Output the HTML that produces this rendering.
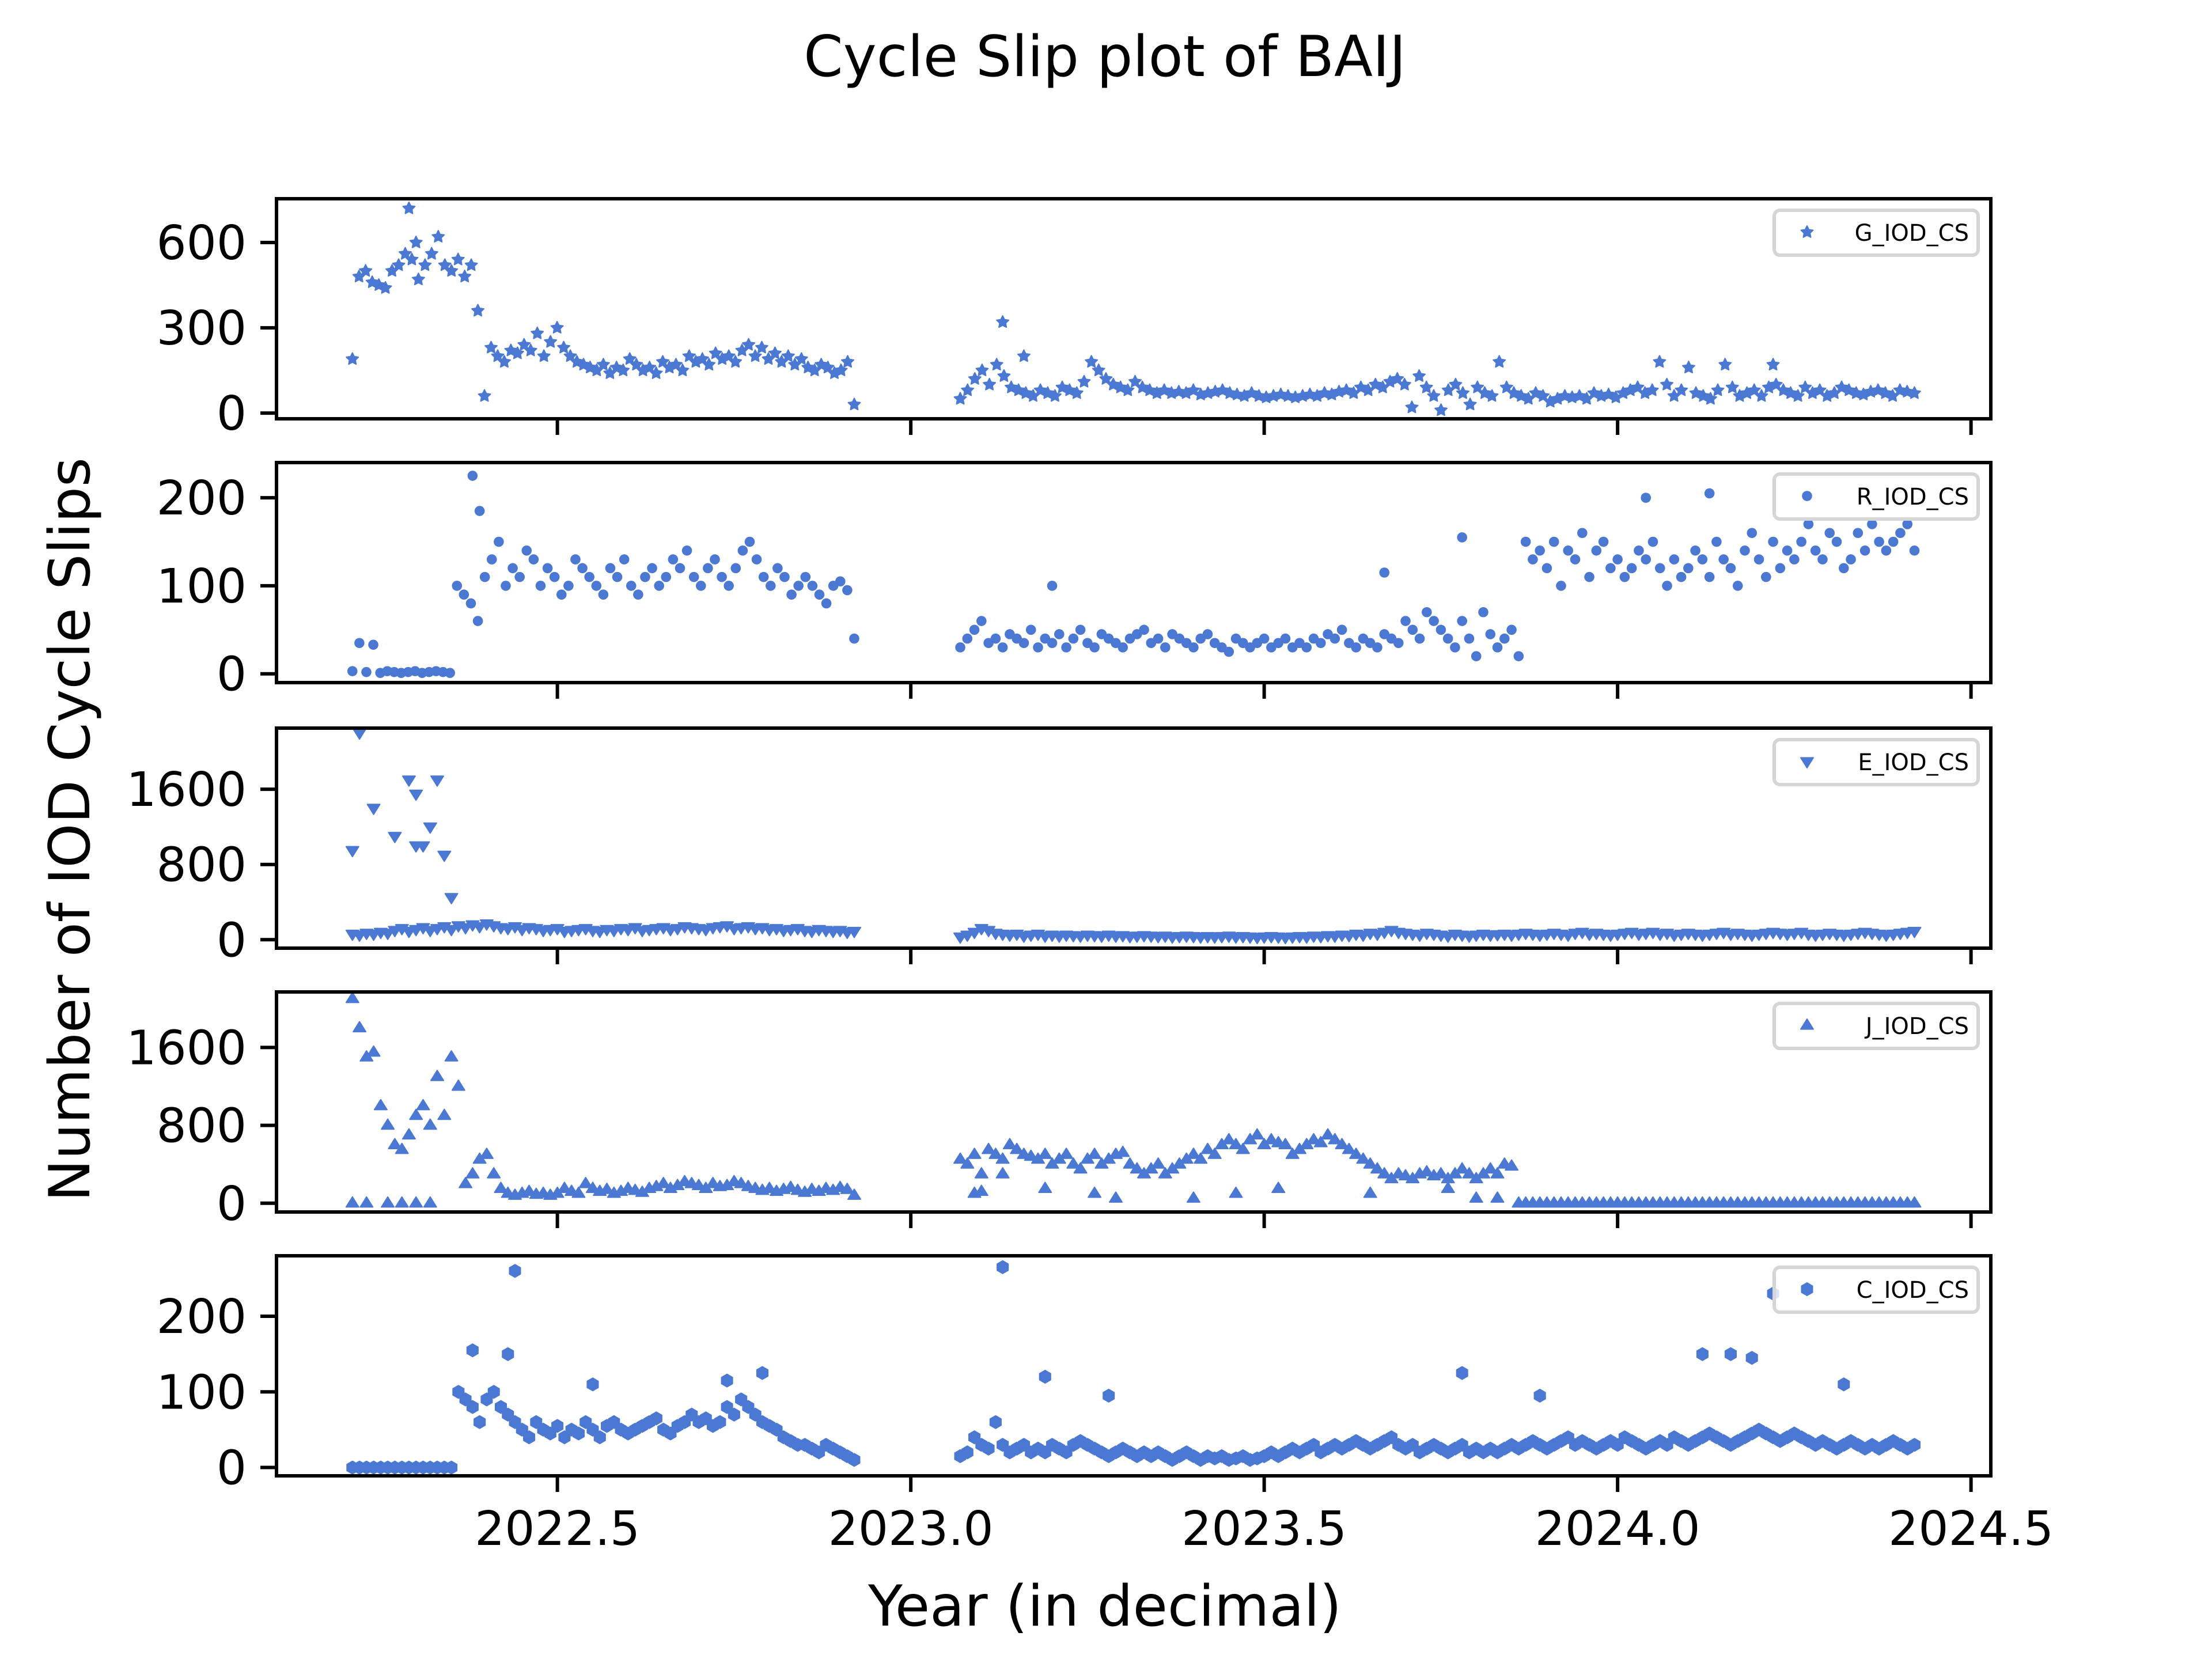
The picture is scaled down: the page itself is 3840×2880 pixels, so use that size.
<!DOCTYPE html>
<html><head><meta charset="utf-8"><style>
html,body{margin:0;padding:0;background:#fff}
svg{display:block}
text{font-family:"DejaVu Sans","Liberation Sans",sans-serif;fill:#000}
</style></head><body>
<svg id="chart" width="3840" height="2880" viewBox="0 0 3840 2880" xmlns="http://www.w3.org/2000/svg">
<rect width="3840" height="2880" fill="#fff"/>
<text x="1918" y="132" font-size="98" text-anchor="middle">Cycle Slip plot of BAIJ</text>
<text x="0" y="0" font-size="98" text-anchor="middle" transform="translate(155,1440) rotate(-90)">Number of IOD Cycle Slips</text>
<text x="1918" y="2822" font-size="98" text-anchor="middle">Year (in decimal)</text>
<g id="panels"></g>
</svg>
<script>
// ---- data ----
const xTicks = [2022.5, 2023.0, 2023.5, 2024.0, 2024.5];
const xTickLabels = ["2022.5", "2023.0", "2023.5", "2024.0", "2024.5"];
const seriesNames = ["G_IOD_CS", "R_IOD_CS", "E_IOD_CS", "J_IOD_CS", "C_IOD_CS"];
const segAStart = 2022.21, segAEnd = 2022.92;
const segBStart = 2023.07, segBEnd = 2024.42;

const gA = [190,480,500,460,450,440,500,520,560,540,470,520,560,620,520,500,540,480,520,360,60,230,200,180,220,210,240,220,280,200,250,300,230,200,180,170,160,150,170,140,160,150,190,170,150,160,140,180,160,170,150,200,180,190,170,210,190,200,180,220,240,200,230,190,210,180,200,170,190,160,150,170,160,140,150,180,30];
const gB = [50,80,120,150,100,170,130,90,80,70,60,80,70,60,90,80,70,110,180,150,120,100,90,80,110,90,80,70,80,70,75,70,80,65,70,75,80,70,65,60,70,60,55,60,65,60,55,60,65,60,70,65,75,80,70,90,80,100,90,110,120,100,20,130,90,60,10,80,100,70,30,90,70,60,180,90,70,60,50,70,60,40,50,60,55,60,50,70,60,65,55,70,80,90,70,80,180,100,60,80,160,70,60,50,80,170,90,60,70,80,60,90,100,80,70,60,90,70,80,60,70,90,80,70,65,75,80,70,60,80,75,70];
const gOutX = [2022.29, 2022.30, 2023.13, 2023.16, 2024.22];
const gOutY = [720, 600, 320, 200, 170];

const rA = [3,35,2,33,1,3,2,1,2,3,1,2,3,2,1,100,90,80,60,110,130,150,100,120,110,140,130,100,120,110,90,100,130,120,110,100,90,120,110,130,100,90,110,120,100,110,130,120,140,110,100,120,130,110,100,120,140,150,130,110,100,120,110,90,100,110,100,90,80,100,105,95,40];
const rB = [30,40,50,60,35,40,30,45,40,35,50,30,40,35,45,30,40,50,35,30,45,40,35,30,40,45,50,35,40,30,45,40,35,30,40,45,35,30,25,40,35,30,35,40,30,35,40,30,35,30,40,35,45,40,50,35,30,40,35,30,45,40,35,60,50,40,70,60,50,40,30,60,40,20,70,45,30,40,50,20,150,130,140,120,150,100,140,130,160,110,140,150,120,130,110,120,140,130,150,120,100,130,110,120,140,130,110,150,130,120,100,140,160,130,110,150,120,140,130,150,170,140,130,160,150,120,130,160,140,170,150,140,150,160,170,140];
const rOutX = [2022.38, 2022.39, 2023.20, 2023.67, 2023.78, 2024.04, 2024.13];
const rOutY = [225, 185, 100, 115, 155, 200, 205];

const eA = [60,50,70,60,80,70,100,120,90,110,130,100,120,140,110,150,130,160,140,170,150,130,120,140,110,130,120,100,110,120,90,100,110,120,100,90,110,100,120,110,130,100,110,120,130,110,120,140,130,120,110,130,140,150,120,130,140,120,130,110,120,100,110,120,100,90,110,100,90,100,80,90];
const eB = [30,50,80,120,100,70,60,50,60,40,50,60,40,50,40,50,45,40,50,45,40,50,40,45,35,40,45,40,35,40,30,35,40,35,30,35,30,35,40,30,35,30,25,30,35,30,25,30,35,30,40,35,45,40,50,45,60,50,70,60,80,100,80,70,60,50,70,60,50,40,60,50,40,50,60,50,55,60,50,60,70,60,50,60,70,60,50,70,80,60,70,60,50,60,70,80,60,70,80,60,70,50,60,70,60,50,60,70,80,60,70,60,50,60,70,80,70,60,70,80,60,50,60,70,60,50,60,70,80,70,60,50,60,70,80,90];
const eOutX = [2022.21, 2022.22, 2022.24, 2022.27, 2022.29, 2022.30, 2022.30, 2022.31, 2022.32, 2022.33, 2022.34, 2022.35];
const eOutY = [950, 2200, 1400, 1100, 1700, 1550, 1000, 1000, 1200, 1700, 900, 450];

const jA = [2100,1800,1500,1550,1000,800,600,550,700,900,1000,800,1300,900,1500,1200,200,300,450,500,300,150,100,80,100,120,90,100,80,100,150,120,100,200,150,120,140,100,120,150,130,110,150,170,200,150,180,220,200,180,150,200,170,180,220,200,170,150,130,150,120,140,160,130,110,140,120,150,130,160,140,80];
const jB = [450,400,500,300,550,500,450,600,550,500,480,450,500,400,450,500,400,350,450,500,400,450,500,520,400,350,300,350,400,300,350,400,450,500,450,550,500,600,650,600,550,650,700,600,650,620,600,500,550,600,650,620,700,650,600,550,500,450,400,350,300,250,300,280,250,300,320,280,300,250,300,350,300,250,300,350,300,400,380,0,0,0,0,0,0,0,0,0,0,0,0,0,0,0,0,0,0,0,0,0,0,0,0,0,0,0,0,0,0,0,0,0,0,0,0,0,0,0,0,0,0,0,0,0,0,0,0,0,0,0,0,0,0,0,0,0];
const jOutX = [2022.21, 2022.23, 2022.26, 2022.28, 2022.30, 2022.32, 2023.09, 2023.10, 2023.13, 2023.19, 2023.26, 2023.29, 2023.40, 2023.46, 2023.52, 2023.65, 2023.76, 2023.80, 2023.83];
const jOutY = [0, 0, 0, 0, 0, 0, 100, 120, 300, 150, 100, 50, 50, 100, 150, 100, 150, 50, 50];

const cA = [0,0,0,0,0,0,0,0,0,0,0,0,0,0,0,100,90,80,60,90,100,80,70,60,50,40,60,50,45,55,40,50,45,60,50,40,55,60,50,45,50,55,60,65,50,45,55,60,70,60,65,55,60,80,70,90,80,70,60,55,50,40,35,30,30,25,20,30,25,20,15,10];
const cB = [15,20,40,30,25,60,30,20,25,30,20,25,20,30,25,20,30,35,30,25,20,15,20,25,20,15,20,15,20,15,10,15,20,15,10,15,12,15,10,12,15,10,12,15,20,15,20,25,20,25,30,20,25,30,25,30,35,30,25,30,35,40,30,25,30,20,25,30,25,20,25,30,20,25,20,25,20,25,30,25,30,35,30,25,30,35,40,30,35,30,25,30,35,30,40,35,30,25,30,35,30,40,35,30,35,40,45,40,35,30,35,40,45,50,45,40,35,40,45,40,35,30,35,30,25,30,35,30,25,30,25,30,35,30,25,30];
const cOutX = [2022.44, 2022.38, 2022.43, 2022.55, 2022.74, 2022.79, 2023.13, 2023.19, 2023.28, 2023.78, 2023.89, 2024.12, 2024.16, 2024.19, 2024.22, 2024.32];
const cOutY = [260, 155, 150, 110, 115, 125, 265, 120, 95, 125, 95, 150, 150, 145, 230, 110];

// ---- layout ----
const L = 480, R = 3456, XMIN = 2022.1026, XMAX = 2024.528;
const panelTops = [345, 803, 1264, 1722, 2180];
const PH = 382;
const COLOR = "#4a78d2";
const panels = [
  {name:"G", marker:"star", yMin:-20, yMax:754, ticks:[0,300,600], A:gA, B:gB, ox:gOutX, oy:gOutY},
  {name:"R", marker:"circle", yMin:-10, yMax:240, ticks:[0,100,200], A:rA, B:rB, ox:rOutX, oy:rOutY},
  {name:"E", marker:"tridown", yMin:-90, yMax:2250, ticks:[0,800,1600], A:eA, B:eB, ox:eOutX, oy:eOutY},
  {name:"J", marker:"triup", yMin:-90, yMax:2170, ticks:[0,800,1600], A:jA, B:jB, ox:jOutX, oy:jOutY},
  {name:"C", marker:"hex", yMin:-11, yMax:280, ticks:[0,100,200], A:cA, B:cB, ox:cOutX, oy:cOutY}
];
const NS = "http://www.w3.org/2000/svg";
const MR = 11;
function xs(v){ return L + (v - XMIN) / (XMAX - XMIN) * (R - L); }
function mk(tag, attrs, parent){ const e = document.createElementNS(NS, tag); for (const k in attrs) e.setAttribute(k, attrs[k]); parent.appendChild(e); return e; }
function markerPoints(type, cx, cy, r){
  const pts = [];
  if (type === "star"){ for (let i=0;i<10;i++){ const a=-Math.PI/2+i*Math.PI/5; const rr=i%2?r*0.5:r; pts.push([cx+rr*Math.cos(a), cy+rr*Math.sin(a)]); } }
  else if (type === "tridown"){ pts.push([cx-r,cy-r*0.6],[cx+r,cy-r*0.6],[cx,cy+r]); }
  else if (type === "triup"){ pts.push([cx-r,cy+r*0.6],[cx+r,cy+r*0.6],[cx,cy-r]); }
  else if (type === "hex"){ for (let i=0;i<6;i++){ const a=-Math.PI/2+i*Math.PI/3; pts.push([cx+r*Math.cos(a), cy+r*Math.sin(a)]); } }
  return pts.map(p=>p[0].toFixed(1)+","+p[1].toFixed(1)).join(" ");
}
function drawMarker(type, cx, cy, r, g){
  let el;
  if (type === "circle") el = mk("circle", {cx:cx, cy:cy, r:r*0.8, fill:COLOR}, g);
  else el = mk("polygon", {points:markerPoints(type, cx, cy, r), fill:COLOR, stroke:COLOR, "stroke-width":2, "stroke-linejoin":"round"}, g);
  return el;
}
const root = document.getElementById("panels");
panels.forEach((p, idx) => {
  const top = panelTops[idx], bot = top + PH;
  const ys = v => bot - (v - p.yMin) / (p.yMax - p.yMin) * PH;
  const g = mk("g", {}, root);
  
  
  const pts = mk("g", {}, g);
  
  
  [[p.A, segAStart, segAEnd], [p.B, segBStart, segBEnd]].forEach(seg => {
    const arr = seg[0], n = arr.length;
    arr.forEach((v, i) => {
      const yr = seg[1] + (seg[2] - seg[1]) * i / (n - 1);
      const m = drawMarker(p.marker, xs(yr), ys(v), MR, pts);
      
      
    });
  });
  p.ox.forEach((yr, i) => {
    const m = drawMarker(p.marker, xs(yr), ys(p.oy[i]), MR, pts);
    
    
  });
  const frame = mk("rect", {x:L, y:top, width:R-L, height:PH, fill:"none", stroke:"#000", "stroke-width":6}, g);
  
  
  p.ticks.forEach(t => {
    const y = ys(t);
    const tk = mk("line", {x1:L-28, x2:L, y1:y, y2:y, stroke:"#000", "stroke-width":6}, g);
    
    
    const tl = mk("text", {x:L-52, y:y+29, "font-size":82, "text-anchor":"end"}, g);
    tl.textContent = String(t);
    
    
  });
  xTicks.forEach((t, i) => {
    const x = xs(t);
    const tk = mk("line", {x1:x, x2:x, y1:bot, y2:bot+28, stroke:"#000", "stroke-width":6}, g);
    
    
    if (idx === panels.length - 1){
      const tl = mk("text", {x:x, y:bot+120, "font-size":82, "text-anchor":"middle"}, g);
      tl.textContent = xTickLabels[i];
      
      
    }
  });
  const lg = mk("g", {}, g);
  
  
  mk("rect", {x:3080, y:top+20, width:354, height:78, rx:10, fill:"#fff", "fill-opacity":0.8, stroke:"#d6d6d6", "stroke-width":6}, lg);
  drawMarker(p.marker, 3137, top+58, 11, lg);
  const lt = mk("text", {x:3418, y:top+73, "font-size":40, "text-anchor":"end"}, lg);
  lt.textContent = seriesNames[idx];
  
  
});
</script>
</body></html>
